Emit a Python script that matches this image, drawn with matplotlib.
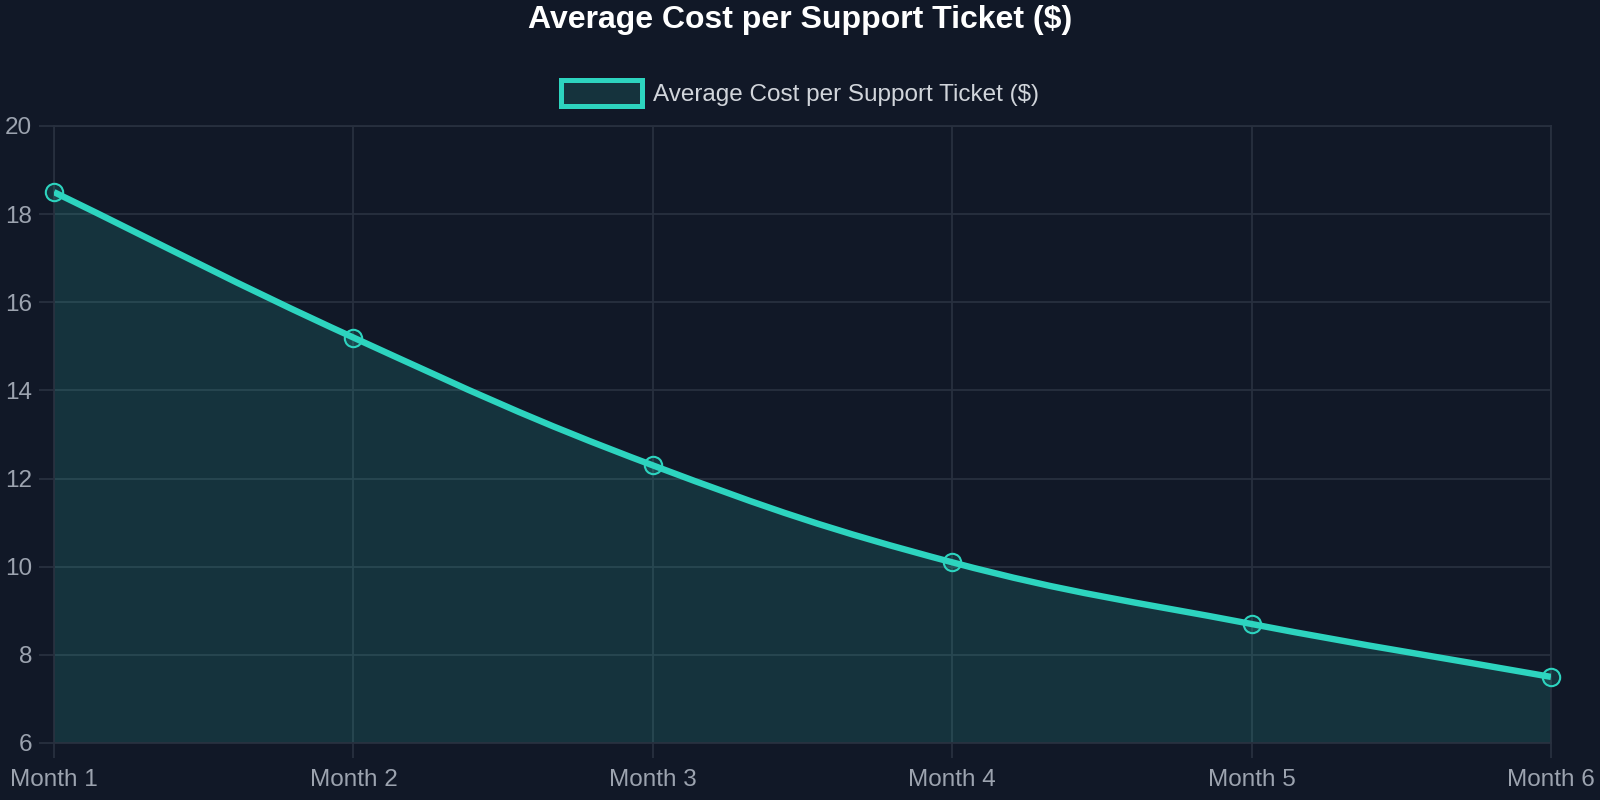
import matplotlib
matplotlib.use("Agg")
import matplotlib.pyplot as plt
import numpy as np
from matplotlib.path import Path
from matplotlib.patches import PathPatch, Patch

plt.rcParams['font.family'] = ['Liberation Sans', 'DejaVu Sans']

months = ["Month 1", "Month 2", "Month 3", "Month 4", "Month 5", "Month 6"]
cost = [18.5, 15.2, 12.3, 10.1, 8.7, 7.5]
y_ticks = [6, 8, 10, 12, 14, 16, 18, 20]
title = "Average Cost per Support Ticket ($)"
series_name = "Average Cost per Support Ticket ($)"

BG = "#111827"
LINE = "#2dd4bf"
FILL = (45/255, 212/255, 191/255, 0.15)
GRID = "#28303f"
TICK = "#9ca3af"
LEG = "#d1d5db"

fig = plt.figure(figsize=(16, 8), dpi=100, facecolor=BG)
L, R, B, T = 54/1600, 1551/1600, 1 - 743/800, 1 - 126/800
ax = fig.add_axes([L, B, R - L, T - B])
ax.set_facecolor(BG)

ymin, ymax = 6, 20
xs = np.arange(len(cost), dtype=float)
ys = np.array(cost, dtype=float)
ax.set_xlim(0, len(cost) - 1)
ax.set_ylim(ymin, ymax)

# Chart.js-like bezier (tension 0.4) computed in pixel space
wpx = (R - L) * 1600
hpx = (T - B) * 800
px = xs * wpx / (len(cost) - 1)
py = (ys - ymin) / (ymax - ymin) * hpx
tension = 0.4
n = len(px)
cps_prev, cps_next = [], []
for i in range(n):
    p0 = (px[max(i-1, 0)], py[max(i-1, 0)])
    p1 = (px[i], py[i])
    p2 = (px[min(i+1, n-1)], py[min(i+1, n-1)])
    d01 = np.hypot(p1[0]-p0[0], p1[1]-p0[1])
    d12 = np.hypot(p2[0]-p1[0], p2[1]-p1[1])
    s01 = d01 / (d01 + d12) if (d01 + d12) else 0
    s12 = d12 / (d01 + d12) if (d01 + d12) else 0
    fa = tension * s01
    fb = tension * s12
    cps_prev.append((p1[0] - fa*(p2[0]-p0[0]), p1[1] - fa*(p2[1]-p0[1])))
    cps_next.append((p1[0] + fb*(p2[0]-p0[0]), p1[1] + fb*(p2[1]-p0[1])))

def to_data(p):
    return (p[0] / wpx * (len(cost) - 1), p[1] / hpx * (ymax - ymin) + ymin)

verts = [(xs[0], ys[0])]
codes = [Path.MOVETO]
for i in range(n - 1):
    verts += [to_data(cps_next[i]), to_data(cps_prev[i+1]), (xs[i+1], ys[i+1])]
    codes += [Path.CURVE4] * 3

fill_verts = verts + [(xs[-1], ymin), (xs[0], ymin), (xs[0], ys[0])]
fill_codes = codes + [Path.LINETO, Path.LINETO, Path.CLOSEPOLY]
ax.add_patch(PathPatch(Path(fill_verts, fill_codes), facecolor=FILL, edgecolor='none', zorder=2))
ax.add_patch(PathPatch(Path(verts, codes), facecolor='none', edgecolor=LINE, lw=4.6,
                       capstyle='butt', joinstyle='round', zorder=3))
ax.plot(xs, ys, linestyle='none', marker='o', markersize=12.5, markeredgewidth=1.5,
        markeredgecolor=LINE, markerfacecolor=FILL, zorder=4, clip_on=False)

ax.set_xticks(xs)
ax.set_xticklabels(months)
ax.set_yticks(y_ticks)
ax.set_yticklabels([str(v) for v in y_ticks])
ax.grid(True, color=GRID, lw=1.3, zorder=1)
ax.set_axisbelow(True)
for s in ax.spines.values():
    s.set_color(GRID)
    s.set_linewidth(1.3)
ax.tick_params(axis='both', colors=GRID, length=10.8, width=1.3, labelsize=17.5, labelcolor=TICK)
ax.tick_params(axis='y', pad=5)
ax.tick_params(axis='x', pad=8)

fig.text(0.5, 1 - 20/800, title, ha='center', va='center', fontsize=23, fontweight='bold', color='white')

handle = Patch(facecolor=FILL, edgecolor=LINE, linewidth=3.6)
leg = fig.legend([handle], [series_name], loc='center', bbox_to_anchor=(0.5, 1 - 93/800),
                 frameon=False, fontsize=17.5, handlelength=3.3, handleheight=1.25,
                 handletextpad=0.45, labelcolor=LEG)

fig.savefig("out.png", dpi=100, facecolor=BG)
